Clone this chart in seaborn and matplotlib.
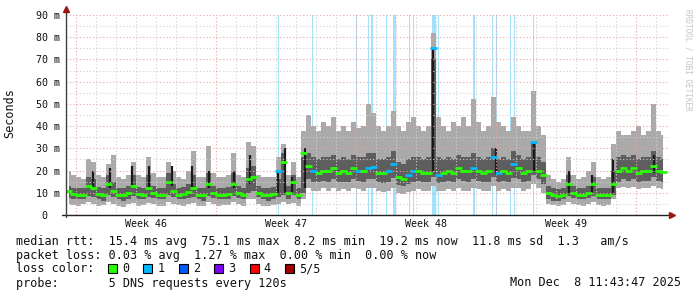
import numpy as np
import matplotlib
matplotlib.use("Agg")
import matplotlib.pyplot as plt
from matplotlib.patches import Rectangle
import seaborn as sns

# ---------------- data (6-hour bins, 4 per day, 30 days) ----------------
median_ms = [
    11, 9.5, 9, 9,      13, 12, 9.5, 9,     14, 11, 9, 9,       10, 13, 9.5, 9,
    12, 10, 9, 9,       15, 11, 9, 9.5,     10.5, 12, 9, 9,     14, 10, 9, 9,
    9.5, 14, 10, 9,     16, 17, 10, 9,      9, 9.5, 20, 24,     10, 15, 9, 28,
    22, 20, 19, 20,     20, 21, 19, 20,     19, 21, 20, 20,     21, 21.5, 19, 19,
    20, 23, 17, 16,     18, 20, 20, 19,     19, 75.1, 18, 19,   20, 19, 21, 20,
    20, 21, 20, 19,     20, 26, 19, 20,     19, 23, 21, 19,     20, 33, 20, 18,
    10, 9, 8.5, 9,      14, 10, 9, 9,       10, 14, 9, 9,       9, 14, 20, 21,
    20, 21, 19, 20,     20, 22, 20, 19.2,
]
outer_hi = [
    20, 18, 17, 16,     25, 24, 18, 17,     23, 27, 17, 16,     18, 24, 18, 17,
    26, 19, 17, 17,     24, 20, 17, 16,     20, 29, 17, 17,     31, 19, 17, 17,
    18, 28, 18, 17,     33, 31, 18, 17,     17, 17, 26, 32,     18, 24, 17, 38,
    45, 40, 38, 42,     40, 44, 38, 40,     38, 42, 39, 40,     50, 46, 40, 38,
    40, 47, 40, 38,     42, 44, 40, 38,     40, 82, 44, 40,     38, 42, 40, 44,
    40, 52, 42, 38,     40, 53, 42, 40,     38, 44, 40, 38,     38, 56, 40, 36,
    18, 16, 15, 16,     26, 18, 16, 17,     20, 24, 17, 16,     17, 32, 38, 36,
    36, 38, 40, 36,     38, 50, 38, 36,
]
outer_lo = [
    5, 4.5, 4, 5,       6, 5, 4, 4.5,       6, 5, 4, 3.5,       5, 5.5, 4, 4.5,
    5.5, 5, 4, 4,       6, 5, 4.5, 4,       5, 5.5, 4, 4,       6, 5, 4, 4.5,
    4.5, 6, 5, 4,       7, 7, 5, 4,         4, 4.5, 5, 6,       5, 5.5, 4, 7,
    12, 11, 11, 12,     11, 12, 11, 11.5,   11, 12, 11.5, 11,   12, 12, 11, 10.5,
    11, 12, 10, 9.5,    10.5, 11, 11.5, 11, 11, 13, 11, 11,     11.5, 11, 12, 11,
    11, 12, 11.5, 11,   11, 13, 11, 11.5,   11, 12, 12, 11,     11.5, 14, 12, 10,
    5, 4.5, 4, 4.5,     6, 5, 4.5, 4,       5, 6, 4.5, 4,       4.5, 7, 12, 12.5,
    12, 12.5, 11.5, 12, 12, 13, 12, 11.5,
]
inner_hi = [
    13, 12, 12, 12,     17, 16, 12.5, 12,   18, 15, 12, 12,     13, 18, 12.5, 12,
    18, 13, 12, 12,     19, 14, 12, 12.5,   14, 18, 12, 12,     19, 13, 12, 12,
    12.5, 19, 13, 12,   21, 22, 13, 12,     12, 12.5, 16, 28,   13, 18, 12, 26,
    28, 26, 25, 26,     26, 27, 25, 26,     25, 27, 26, 26,     28, 28, 25, 25,
    26, 29, 24, 23,     25, 26, 26, 25,     26, 70, 26, 25,     26, 25, 27, 26,
    26, 28, 26, 25,     26, 30, 25, 26,     25, 29, 27, 25,     26, 33, 26, 24,
    13, 12, 11.5, 12,   18, 13, 12, 12,     13, 17, 12, 12,     12, 20, 26, 27,
    26, 27, 25, 26,     26, 29, 26, 25,
]
inner_lo = [
    7.5, 7, 7, 7,       8.5, 8, 7, 6.5,     9, 8, 7, 6.5,       7, 8.5, 7, 7,
    8, 7.5, 7, 7,       9, 8, 7, 7,         7.5, 8, 7, 6.5,     8.5, 7.5, 7, 7,
    7, 8.5, 7.5, 7,     10, 11, 8, 7,       6.5, 7, 8, 9,       7, 9, 7, 10,
    16, 15, 15, 15.5,   15, 16, 15, 15,     15, 16, 15.5, 15,   16, 16, 15, 14.5,
    15, 16.5, 13.5, 13, 14, 15, 15.5, 15,   15, 17, 14.5, 15,   15.5, 15, 16, 15.5,
    15, 16, 15.5, 15,   15, 17, 15, 15.5,   15, 16.5, 16, 15,   15.5, 18, 16, 14,
    7, 6.5, 6.5, 7,     8.5, 7.5, 7, 7,     7.5, 8.5, 7, 7,     7, 9, 15, 16,
    15.5, 16, 15, 15.5, 15.5, 17, 15.5, 15,
]
# dark spikes (day, low ms, high ms)
spike_day = [1.35, 2.2, 3.3, 4.15, 5.3, 6.3, 7.15, 8.4, 9.2, 10.6, 10.95, 11.3,
             11.95, 18.375, 21.5, 23.4, 25.15, 26.3, 27.35, 29.4]
spike_lo = [12, 12, 12, 12, 13, 12, 12, 12, 14, 10, 10, 10, 12, 20, 18, 20, 10, 10, 10, 19]
spike_hi = [20, 21, 22, 22, 22, 22, 20, 20, 27, 20, 30, 17, 30, 75, 30, 33, 20, 18, 25, 27]
# packet-loss events (day, duration in hours), all 1/5 loss
loss_day = [10.625, 12.325, 14.55, 15.15, 15.3, 16.025, 16.45, 17.175, 17.375,
            18.4, 18.625, 20.425, 21.325, 21.55, 22.25, 22.425, 23.375]
loss_hours = [1.2, 1.2, 1.2, 1.2, 2.4, 1.2, 3.6, 1.2, 1.2,
              3.6, 1.2, 2.4, 1.2, 1.2, 1.2, 1.2, 1.2]
week_pos = [4, 11, 18, 25]
week_labels = ["Week 46", "Week 47", "Week 48", "Week 49"]
ytick_vals = [0, 10, 20, 30, 40, 50, 60, 70, 80, 90]
ytick_labels = ["0\u00a0\u00a0", "10 m", "20 m", "30 m", "40 m", "50 m",
                "60 m", "70 m", "80 m", "90 m"]
loss_colors = ["#26ff00", "#00b8ff", "#0059ff", "#7e00ff", "#ff0000", "#a10000"]
loss_names = ["0", "1", "2", "3", "4", "5/5"]

# ---------------- figure ----------------
sns.set_style("white")
plt.rcParams["font.family"] = ["DejaVu Sans Mono", "DejaVu Sans"]
W, H = 697, 297
fig = plt.figure(figsize=(W / 100, H / 100), dpi=100)
fig.patch.set_facecolor("white")
ax = fig.add_axes([66 / W, (H - 215) / H, 602 / W, 200 / H])
ax.set_xlim(0, 30.1)
ax.set_ylim(0, 90)
for s in ax.spines.values():
    s.set_visible(False)

n = len(median_ms)
t = (np.arange(n) + 0.5) / 4.0

# loss background lines
ax.bar(loss_day, 90, width=np.array(loss_hours) / 24.0, bottom=0,
       color="#a4e2fb", linewidth=0, zorder=1)

# smoke
ax.fill_between(t, outer_lo, outer_hi, step="mid", color="#aaaaaa", linewidth=0, zorder=2)
ax.fill_between(t, inner_lo, inner_hi, step="mid", color="#5e5e5e", linewidth=0, zorder=3)
ax.vlines(spike_day, spike_lo, spike_hi, color="#1a1a1a", linewidth=1.6, zorder=4)

# median markers coloured by loss
lossflag = np.zeros(n, dtype=int)
for d in loss_day:
    lossflag[min(int(d * 4), n - 1)] = 1
sns.scatterplot(x=t, y=median_ms, hue=lossflag, palette={0: "#26ff00", 1: "#00b8ff"},
                marker="_", s=22, linewidth=2.0, legend=False, ax=ax, zorder=6)

# grid (drawn over data like rrdtool)
minor_y = [5, 15, 25, 35, 45, 55, 65, 75, 85]
ax.hlines(minor_y, 0, 30.1, colors="#cfcfcf", linewidth=0.8, linestyles=(0, (1, 2)), zorder=5)
ax.hlines(ytick_vals[1:], 0, 30.1, colors="#e6a4a4", linewidth=0.8, linestyles=(0, (1, 2)), zorder=5)
days = np.arange(0.5, 30.1, 1.0)
minor_x = [d for d in days if (d - 0.5) % 7 != 0]
major_x = [d for d in days if (d - 0.5) % 7 == 0]
ax.vlines(minor_x, 0, 90, colors="#cfcfcf", linewidth=0.8, linestyles=(0, (1, 2)), zorder=5)
ax.vlines(major_x, 0, 91, colors="#e6a4a4", linewidth=0.8, linestyles=(0, (1, 2)), zorder=5)

# axes lines with arrows
ax.plot([-0.006, 1.003], [0, 0], transform=ax.transAxes, color="#202020", lw=1.0, clip_on=False, zorder=7)
ax.plot([0, 0], [-0.01, 1.02], transform=ax.transAxes, color="#404040", lw=1.0, clip_on=False, zorder=7)
ax.plot([1.006], [0], marker=">", markersize=4.5, color="#9b1515", transform=ax.transAxes, clip_on=False, zorder=8)
ax.plot([0], [1.03], marker="^", markersize=4.5, color="#9b1515", transform=ax.transAxes, clip_on=False, zorder=8)

# ticks
ax.set_yticks(ytick_vals)
ax.set_yticklabels(ytick_labels)
ax.set_xticks(week_pos)
ax.set_xticklabels(week_labels)
ax.tick_params(axis="y", length=0, pad=4.5, labelsize=7.2, labelcolor="#111111")
ax.tick_params(axis="x", length=0, pad=3.2, labelsize=7.2, labelcolor="#111111")
ax.set_xlabel("")
ax.set_ylabel("")

mono = "DejaVu Sans Mono"
fig.text(10 / W, 1 - 113 / H, "Seconds", rotation=90, ha="center", va="center",
         fontsize=8.5, family=mono, color="#111111")
fig.text(688 / W, 1 - 60 / H, "RRDTOOL / TOBI OETIKER", rotation=270, ha="center", va="center",
         fontsize=5.6, family=mono, color="#c4c4c4")

fs = 8.5
lines = [
    "median rtt:  15.4 ms avg  75.1 ms max  8.2 ms min  19.2 ms now  11.8 ms sd  1.3   am/s",
    "packet loss: 0.03 % avg  1.27 % max  0.00 % min  0.00 % now",
    "loss color:",
    "probe:       5 DNS requests every 120s",
]
for i, s in enumerate(lines):
    fig.text(16 / W, 1 - (241 + 14 * i) / H, s, ha="left", va="center",
             fontsize=fs, family=mono, color="#111111")
fig.text(681 / W, 1 - 283 / H, "Mon Dec  8 11:43:47 2025", ha="right", va="center",
         fontsize=fs, family=mono, color="#111111")
for k, (c, lab) in enumerate(zip(loss_colors, loss_names)):
    x0 = 108 + 35.4 * k
    fig.add_artist(Rectangle((x0 / W, 1 - 273 / H), 9 / W, 9 / H, transform=fig.transFigure,
                             facecolor=c, edgecolor="black", linewidth=0.8))
    fig.text((x0 + 14) / W, 1 - 269 / H, lab, ha="left", va="center",
             fontsize=fs, family=mono, color="#111111")

fig.savefig("out.png", dpi=100, facecolor="white")
